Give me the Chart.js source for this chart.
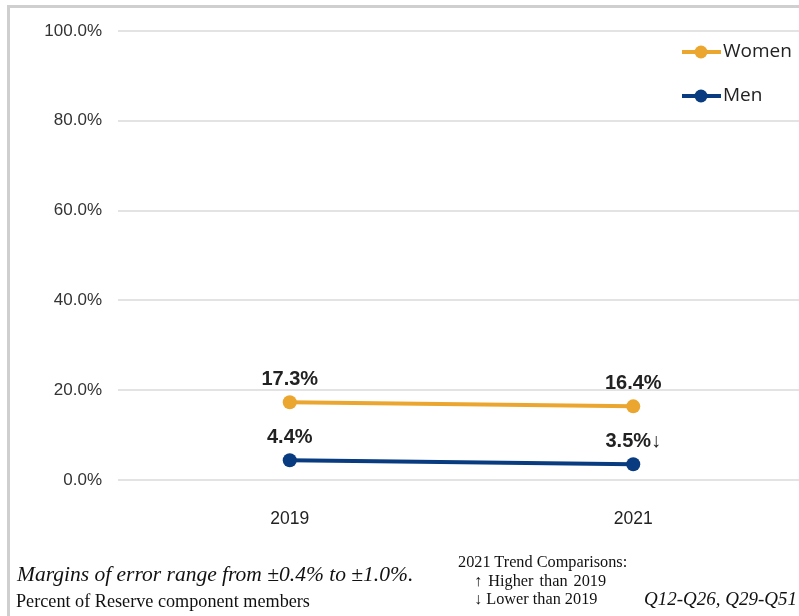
<!DOCTYPE html>
<html>
<head>
<meta charset="utf-8">
<script src="https://cdn.jsdelivr.net/npm/chart.js@4.4.0/dist/chart.umd.min.js"></script>
<style>
  html,body{margin:0;padding:0;background:#fff;overflow:hidden;width:799px;height:616px;}
  #frame{position:absolute;left:7px;top:5px;width:900px;height:700px;border-left:3px solid #cfcfcf;border-top:3px solid #cfcfcf;}
  #wrap{position:absolute;left:0;top:0;width:812px;height:616px;}
  .note{position:absolute;font-family:"Liberation Serif","Times New Roman",serif;color:#111;white-space:nowrap;line-height:1;}
</style>
</head>
<body>
<div id="frame"></div>
<div id="wrap"><canvas id="c" width="812" height="616"></canvas></div>
<div class="note" style="left:17px;top:564px;font-size:21.5px;font-style:italic;">Margins of error range from ±0.4% to ±1.0%.</div>
<div class="note" style="left:16px;top:592px;font-size:18.2px;">Percent of Reserve component members</div>
<div class="note" style="left:458px;top:554px;font-size:16.3px;">2021 Trend Comparisons:</div>
<div class="note" style="left:474px;top:573px;font-size:16.3px;word-spacing:2px;">↑ Higher than 2019</div>
<div class="note" style="left:474px;top:591px;font-size:16.3px;">↓ Lower than 2019</div>
<div class="note" style="left:644px;top:589px;font-size:19px;font-style:italic;">Q12-Q26, Q29-Q51</div>
<script>
const categories = ["2019", "2021"];
const women = [17.3, 16.4];
const men = [4.4, 3.5];
const womenLabels = ["17.3%", "16.4%"];
const menLabels = ["4.4%", "3.5%↓"];
const seriesNames = ["Women", "Men"];
const yTicks = [0, 20, 40, 60, 80, 100];

const womenColor = "#EBA62F";
const menColor = "#083B7F";

const valueLabels = {
  id: "valueLabels",
  afterDatasetsDraw(chart) {
    const ctx = chart.ctx;
    ctx.save();
    ctx.font = "bold 20px 'Liberation Sans', Arial, sans-serif";
    ctx.fillStyle = "#222";
    ctx.textAlign = "center";
    ctx.textBaseline = "alphabetic";
    chart.data.datasets.forEach((ds, i) => {
      const meta = chart.getDatasetMeta(i);
      meta.data.forEach((pt, j) => {
        ctx.fillText(ds.valueLabels[j], pt.x, pt.y - 17);
      });
    });
    ctx.restore();
  }
};

const customLegend = {
  id: "customLegend",
  afterDraw(chart) {
    const ctx = chart.ctx;
    ctx.save();
    const ys = [52, 96];
    chart.data.datasets.forEach((ds, i) => {
      const y = ys[i];
      ctx.strokeStyle = ds.borderColor;
      ctx.lineWidth = 4;
      ctx.beginPath();
      ctx.moveTo(682, y);
      ctx.lineTo(721, y);
      ctx.stroke();
      ctx.fillStyle = ds.borderColor;
      ctx.beginPath();
      ctx.arc(701, y, 6.5, 0, Math.PI * 2);
      ctx.fill();
      ctx.font = "19px 'Open Sans', sans-serif";
      ctx.fillStyle = "#222";
      ctx.textAlign = "left";
      ctx.textBaseline = "middle";
      ctx.fillText(ds.label, 723, y);
    });
    ctx.restore();
  }
};

new Chart(document.getElementById("c"), {
  type: "line",
  data: {
    labels: categories,
    datasets: [
      { label: seriesNames[0], data: women, valueLabels: womenLabels, borderColor: womenColor, backgroundColor: womenColor,
        borderWidth: 4, pointRadius: 7, pointBackgroundColor: womenColor, pointBorderWidth: 0, tension: 0 },
      { label: seriesNames[1], data: men, valueLabels: menLabels, borderColor: menColor, backgroundColor: menColor,
        borderWidth: 4, pointRadius: 7, pointBackgroundColor: menColor, pointBorderWidth: 0, tension: 0 }
    ]
  },
  options: {
    responsive: false,
    animation: false,
    layout: { padding: { top: 31, left: 0, right: 0, bottom: 0 } },
    plugins: { legend: { display: false }, tooltip: { enabled: false } },
    scales: {
      x: {
        offset: true,
        grid: { display: false, drawTicks: false },
        border: { display: false },
        ticks: { font: { family: "'Liberation Sans', Arial, sans-serif", size: 17.5 }, color: "#222", padding: 29 },
        afterFit(s) { s.height = 136; }
      },
      y: {
        min: 0, max: 100,
        afterBuildTicks(s) { s.ticks = yTicks.map(v => ({ value: v })); },
        grid: { color: "#e3e3e3", lineWidth: 2, drawTicks: false },
        border: { display: false },
        ticks: { font: { family: "'Liberation Sans', Arial, sans-serif", size: 17 }, color: "#333", padding: 16,
          callback: v => v.toFixed(1) + "%" },
        afterFit(s) { s.width = 118; }
      }
    }
  },
  plugins: [valueLabels, customLegend]
});
</script>
</body>
</html>
